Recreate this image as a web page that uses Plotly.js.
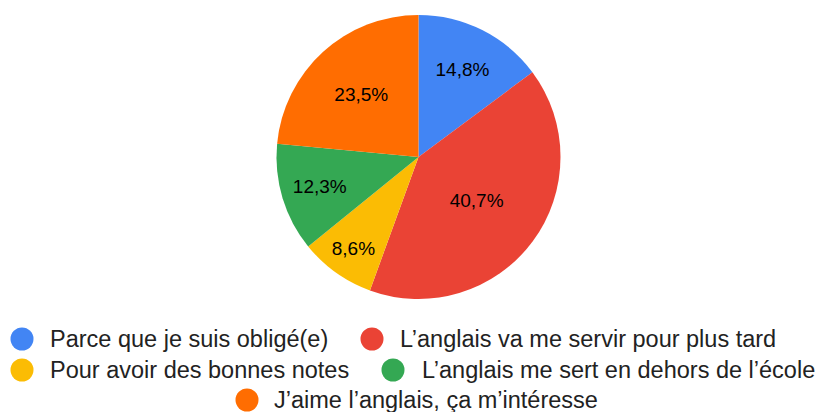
<!DOCTYPE html>
<html>
<head>
<meta charset="utf-8">
<script src="https://cdn.plot.ly/plotly-3.0.1.min.js"></script>
<style>html,body{margin:0;padding:0;background:#fff;}#chart{width:818px;height:412px;}</style>
</head>
<body>
<div id="chart"></div>
<script>
const labels = [
  "Parce que je suis obligé(e)",
  "L’anglais va me servir pour plus tard",
  "Pour avoir des bonnes notes",
  "L’anglais me sert en dehors de l’école",
  "J’aime l’anglais, ça m’intéresse"
];
const values = [14.8, 40.7, 8.6, 12.3, 23.5];
const colors = ["#4285F4", "#EA4335", "#FBBC04", "#34A853", "#FF6D01"];

// slice order drawn clockwise from 12 o'clock
const sliceOrder = [0, 1, 2, 3, 4];

const W = 818, H = 412;
const cx = 418.5, cy = 157, R = 142;

// legend layout (pixel positions of each entry: circle centre x, text x, row y)
const legendPos = [
  {c: 22, t: 49, y: 339},
  {c: 372, t: 399, y: 339},
  {c: 22, t: 49, y: 370},
  {c: 393, t: 421, y: 370},
  {c: 247, t: 273, y: 400}
];

const font = "Arial, 'Liberation Sans', sans-serif";

const trace = {
  type: "pie",
  labels: sliceOrder.map(i => labels[i]),
  values: sliceOrder.map(i => values[i]),
  marker: {colors: sliceOrder.map(i => colors[i]), line: {width: 0}},
  sort: false,
  direction: "clockwise",
  rotation: 0,
  texttemplate: "%{value:.1f}%",
  textposition: "inside",
  insidetextorientation: "horizontal",
  textfont: {family: font, size: 19, color: "#000"},
  hoverinfo: "none",
  showlegend: false,
  domain: {x: [(cx - R) / W, (cx + R) / W], y: [1 - (cy + R) / H, 1 - (cy - R) / H]}
};

const shapes = [], annotations = [];
legendPos.forEach((p, i) => {
  const r = 11.5;
  shapes.push({
    type: "circle", xref: "paper", yref: "paper",
    x0: (p.c - r) / W, x1: (p.c + r) / W,
    y0: 1 - (p.y + r) / H, y1: 1 - (p.y - r) / H,
    fillcolor: colors[i], line: {width: 0}
  });
  annotations.push({
    xref: "paper", yref: "paper", x: p.t / W, y: 1 - p.y / H,
    xanchor: "left", yanchor: "middle", showarrow: false,
    text: labels[i], borderpad: 0,
    font: {family: font, size: 23.5, color: "#222"}
  });
});

const layout = {
  width: W, height: H,
  margin: {l: 0, r: 0, t: 0, b: 0},
  paper_bgcolor: "#fff",
  separators: ", ",
  shapes: shapes,
  annotations: annotations,
  showlegend: false
};

Plotly.newPlot("chart", [trace], layout, {displayModeBar: false, staticPlot: true});
</script>
</body>
</html>
